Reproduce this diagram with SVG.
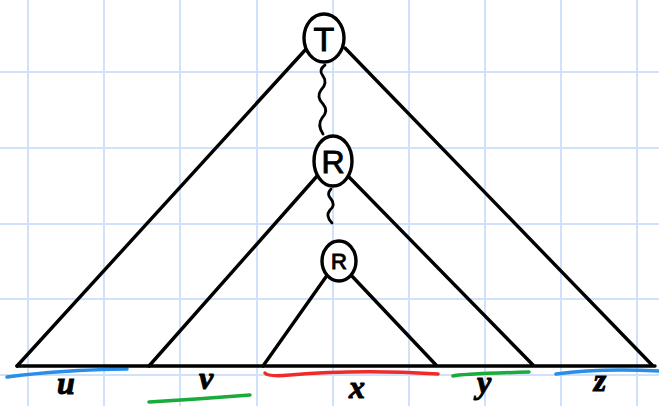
<svg xmlns="http://www.w3.org/2000/svg" width="659" height="406" viewBox="0 0 659 406">
<style>
.grid{stroke:#cfe1fb;stroke-width:2;fill:none}
.edge{stroke:#000;stroke-width:3.4;fill:none;stroke-linecap:round;stroke-linejoin:round}
.wave{stroke:#000;stroke-width:2.8;fill:none;stroke-linecap:round;stroke-linejoin:round}
.node{stroke:#000;stroke-width:3.4;fill:#fff}
.lbl{font-family:"Liberation Serif",serif;font-style:italic;font-weight:bold;fill:#000;stroke:#000;stroke-width:1;text-anchor:middle}
.nl{font-family:"Liberation Sans",sans-serif;fill:#000;stroke:#000;stroke-width:1;text-anchor:middle}
.ul{fill:none;stroke-width:3.5;stroke-linecap:round}
</style>
<rect width="659" height="406" fill="#fff"/>
<g id="grid" class="grid">
<path d="M28 0V406M104 0V406M180 0V406M257 0V406M333 0V406M409 0V406M485 0V406M561 0V406M637 0V406"/>
<path d="M0 72H659M0 148H659M0 224H659M0 299H659M0 375H659"/>
</g>
<g id="underlines">
<path class="ul" stroke="#2a8ee8" d="M7 377 Q60 370 127 369"/>
<path class="ul" stroke="#1aab3a" d="M149 402 Q200 399 250 395"/>
<path class="ul" stroke="#ee2b2b" d="M265 373 Q268 377 290 375 Q360 369 438 374"/>
<path class="ul" stroke="#1aab3a" d="M453 376 Q460 374 529 372"/>
<path class="ul" stroke="#2a8ee8" d="M556 374 Q600 368 659 371"/>
</g>
<g id="connectors">
<path class="edge" d="M17 366 H655"/>
<path class="edge" d="M17 366 L307 48"/>
<path class="edge" d="M345 48 L652 365"/>
<path class="edge" d="M149 366 L318 175"/>
<path class="edge" d="M348 176 L533 365"/>
<path class="edge" d="M263 366 L328 274"/>
<path class="edge" d="M350 274 L436 365"/>
<path class="wave" d="M325 65 Q318 70 323 76 Q328 83 321 90 Q316 97 323 104 Q329 111 322 118 Q317 125 323 134"/>
<path class="wave" d="M331 189 Q326 194 331 199 Q336 205 330 210 Q325 216 332 223"/>
</g>
<g id="node-T">
<ellipse class="node" cx="324" cy="38" rx="20" ry="24"/>
<text class="nl" x="324" y="51" font-size="34">T</text>
</g>
<g id="node-R1">
<ellipse class="node" cx="333" cy="161" rx="19" ry="25"/>
<text class="nl" x="333" y="173" font-size="32">R</text>
</g>
<g id="node-R2">
<ellipse class="node" cx="339" cy="261" rx="17" ry="20"/>
<text class="nl" x="339" y="269" font-size="22">R</text>
</g>
<g id="labels">
<text class="lbl" x="66" y="394" font-size="32">u</text>
<text class="lbl" x="206" y="389" font-size="32">v</text>
<text class="lbl" x="357" y="398" font-size="32">x</text>
<text class="lbl" x="484" y="393" font-size="32">y</text>
<text class="lbl" x="600" y="391" font-size="32">z</text>
</g>
</svg>
